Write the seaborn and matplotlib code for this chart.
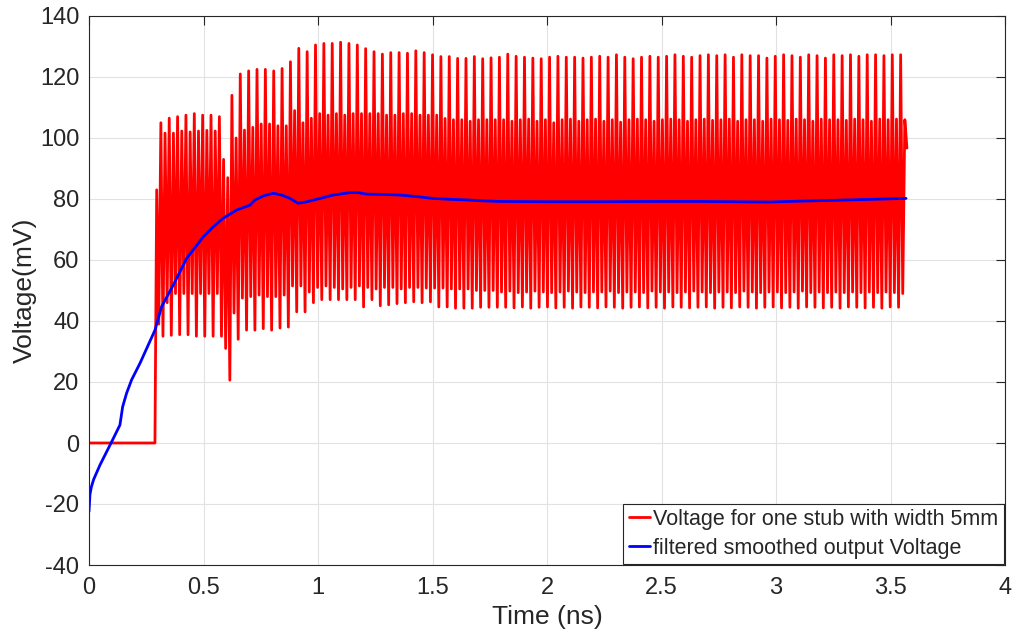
import numpy as np
import pandas as pd
import matplotlib
matplotlib.use("Agg")
import matplotlib.pyplot as plt
import seaborn as sns

# ---------------- data ----------------
# Red trace: flat at 0 mV until the switch-on, then an oscillation.
red_flat_t = [0.0, 0.288]
red_flat_v = [0.0, 0.0]

# Extrema of the oscillation, one entry per cycle (90 cycles).
# Each cycle: peak p1 -> trough t1 -> peak p2 -> trough t2
red_first_t = 0.2956   # time of first extremum (ns)
red_last_t = 3.5717    # time of last sample (ns)

red_p1 = [83, 101.6, 101.6, 102.3, 102, 102.3, 102.5, 102.3, 93,
          114, 121, 122, 122.5, 122.5, 122, 122.8, 125, 129.4, 128.3,
          130.5, 131, 131, 131.4, 131, 130.5, 129.3, 128.3, 127.5, 128,
          128, 127.8, 128.6, 128, 127.3, 126.7, 126.7, 126.1, 126.1, 126.7,
          126, 126.3,
          126.5, 127.5, 126.8, 126.5, 126.2, 126, 126.5, 126.8, 126.5, 126.5,
          126.2, 126.5, 126.8, 126.5, 127.3, 126.5, 126, 126.5, 126.8, 126.5,
          126.8, 127.3, 126.8, 126.5, 127, 127.3, 127, 127.3, 126.5, 127.3,
          127, 127, 126.2, 126.8, 127.3, 127, 126.5, 127.3, 127, 126.2,
          127.3, 127, 127.3, 126.8, 127.3, 127.3, 127, 127.3, 127.3]

red_t1 = [39, 46, 49, 49, 49, 49, 49, 49, 31,
          42.6, 47.5, 48, 48.5, 48, 48, 48.5, 51.5, 51.5, 49.5,
          51, 51.5, 51, 50.5, 51, 51.5, 51, 50.5, 51, 51,
          50.5, 51, 51, 50.8, 50.8, 50.8, 50.5, 50.5, 50.5, 50,
          50, 50,
          49.5, 49.8, 49.3, 49.5, 49.8, 49.5, 49.3, 49.5, 49.8, 49.5,
          49.3, 49.5, 49.5, 49.8, 49.3, 49.5, 49.5, 49.3, 49.8, 49.5,
          49.5, 49.3, 49.5, 49.8, 49.5, 49.3, 49.5, 49.5, 49.3, 49.8,
          49.5, 49.3, 49.5, 49.5, 49.3, 49.5, 49.8, 49.3, 49.5, 49.3,
          49.5, 49.3, 49.5, 49.3, 49.5, 49.3, 49.5, 49.3, 49.0]

red_p2 = [105, 106.5, 107, 107.5, 108, 107.5, 107.5, 107, 87,
          100, 102.6, 103.5, 104.6, 104.6, 104, 104, 109, 105, 106.5,
          108, 107.5, 108, 107.5, 108, 108, 108, 108, 107.5, 107.5,
          108, 108, 107.5, 107.5, 107.5, 106.4, 106, 106, 105.5, 106,
          106, 106,
          106, 105.5, 106, 106.2, 105.5, 106, 105, 106, 106.2, 105.5,
          106, 106.2, 105.5, 106, 105.2, 106, 106.2, 106, 105.5, 106,
          106.2, 106, 105.5, 106, 106.2, 105.8, 106, 106.2, 105.5, 106,
          106, 105.5, 106.2, 106, 105.8, 106.2, 106, 105.5, 106.2, 106,
          106, 105.8, 106.2, 106, 105.5, 106.2, 106, 106.2, 106]

red_t2 = [35, 35.3, 35.5, 35.5, 35, 35, 35, 35, 20.6,
          34, 37, 37, 37.5, 37, 37.7, 38, 43, 43, 46,
          47, 47, 47, 47, 47, 44.6, 47, 45, 45.3, 45.7,
          46, 46.3, 46, 46.3, 44.6, 44.6, 44.2, 44.2, 44.2, 44.5,
          44.5, 44.5,
          44.5, 44.3, 44.6, 44.2, 44.5, 44.6, 44.3, 44.5, 44.2, 44.6,
          44.5, 44.3, 44.6, 44.5, 44.2, 44.5, 44.6, 44.3, 44.5, 44.2,
          44.6, 44.5, 44.3, 44.5, 44.6, 44.2, 44.5, 44.3, 44.6, 44.5,
          44.2, 44.5, 44.6, 44.3, 44.5, 44.2, 44.6, 44.5, 44.3, 44.5,
          44.2, 44.6, 44.5, 44.3, 44.5, 44.2, 44.6, 44.5, 96.7]

# Blue trace: filtered smoothed output
blue_t = [0.0, 0.004, 0.010, 0.020, 0.048, 0.099, 0.135, 0.147, 0.164, 0.186,
          0.223, 0.288, 0.317, 0.368, 0.426, 0.499, 0.543, 0.586, 0.645, 0.703,
          0.725, 0.761, 0.805, 0.841, 0.878, 0.913, 0.951, 1.009, 1.066, 1.140,
          1.175, 1.213, 1.284, 1.358, 1.431, 1.502, 1.576, 1.649, 1.721, 1.795,
          2.013, 2.231, 2.450, 2.668, 2.965, 3.105, 3.323, 3.568]
blue_v = [-22.5, -17, -14.5, -12, -7.2, 0.4, 5.9, 11.9, 16.3, 20.7,
          26.2, 37, 44.7, 51.8, 60.5, 67.6, 70.9, 73.7, 76.4, 78,
          79.7, 81, 81.9, 81.3, 80.2, 78.6, 79.1, 80.2, 81.3, 82.1,
          82.1, 81.6, 81.5, 81.3, 80.8, 80.2, 79.9, 79.7, 79.4, 79.2,
          79.1, 79.1, 79.2, 79.2, 79.0, 79.3, 79.7, 80.2]

x_ticks = [0, 0.5, 1, 1.5, 2, 2.5, 3, 3.5, 4]
x_tick_labels = ["0", "0.5", "1", "1.5", "2", "2.5", "3", "3.5", "4"]
y_ticks = [-40, -20, 0, 20, 40, 60, 80, 100, 120, 140]

red_label = "Voltage for one stub with width 5mm"
blue_label = "filtered smoothed output Voltage"

# ---------------- build tables ----------------
ext_v = np.column_stack([red_p1, red_t1, red_p2, red_t2]).ravel()
ext_t = np.linspace(red_first_t, red_last_t, len(ext_v))
red_df = pd.DataFrame({"t": np.concatenate([red_flat_t, ext_t]),
                       "v": np.concatenate([red_flat_v, ext_v])})
blue_df = pd.DataFrame({"t": blue_t, "v": blue_v})

# ---------------- style ----------------
sns.set_theme(style="white")
plt.rcParams["font.family"] = ["Liberation Sans", "DejaVu Sans"]
plt.rcParams["axes.unicode_minus"] = False

W, H = 1015, 636
fig = plt.figure(figsize=(W / 100, H / 100), dpi=100)
ax = fig.add_axes([89 / W, 1 - 565 / H, (1005 - 89) / W, (565 - 16) / H])

sns.lineplot(data=red_df, x="t", y="v", sort=False, estimator=None,
             color="#FF0000", lw=2.0, ax=ax, label=red_label)
sns.lineplot(data=blue_df, x="t", y="v", sort=False, estimator=None,
             color="#0000FF", lw=2.0, ax=ax, label=blue_label)

ax.set_xlim(0, 4)
ax.set_ylim(-40, 140)
ax.set_xticks(x_ticks)
ax.set_xticklabels(x_tick_labels)
ax.set_yticks(y_ticks)
ax.grid(True, color="#E2E2E2", lw=0.8)
ax.set_axisbelow(True)
for s in ax.spines.values():
    s.set_color("#262626")
    s.set_linewidth(0.8)
    s.set_visible(True)
ax.tick_params(direction="in", length=6.5, width=0.8, colors="#262626",
               labelsize=17, top=True, right=True, pad=7)
ax.tick_params(axis="x", pad=9)

ax.set_xlabel("Time (ns)", fontsize=19, color="#262626", labelpad=4)
ax.set_ylabel("Voltage(mV)", fontsize=19, color="#262626", labelpad=2)

leg = ax.legend(loc="lower right", fontsize=15.5, frameon=True, fancybox=False,
                framealpha=1, edgecolor="#262626", borderaxespad=0.05,
                handlelength=1.0, handletextpad=0.15, borderpad=0.25,
                labelspacing=0.35)
leg.get_frame().set_linewidth(0.8)

fig.savefig("out.png", dpi=100)
